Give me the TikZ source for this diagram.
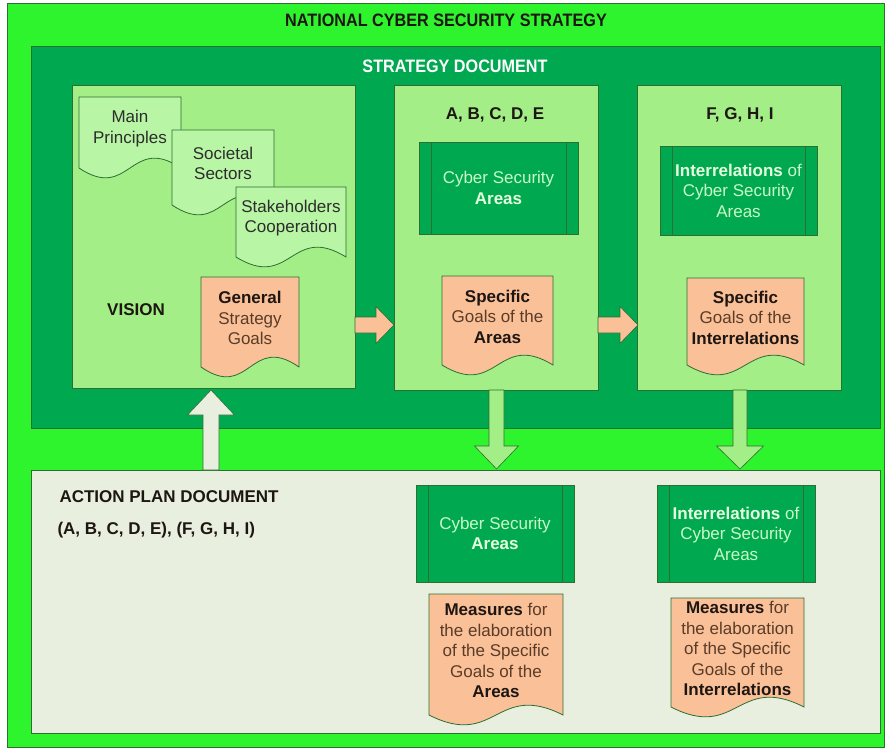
\documentclass[tikz,border=0pt]{standalone}
\usepackage{fontspec}
\setmainfont{Liberation Sans}
\usetikzlibrary{positioning,calc}

\definecolor{outergreen}{RGB}{46,244,46}
\definecolor{darkgreen}{RGB}{0,168,80}
\definecolor{boxgreen}{RGB}{163,238,135}
\definecolor{docgreen}{RGB}{184,245,165}
\definecolor{peach}{RGB}{250,192,152}
\definecolor{planbg}{RGB}{232,239,223}
\definecolor{edgegreen}{RGB}{45,110,50}
\definecolor{palegreen}{RGB}{200,250,195}
\definecolor{whitegreen}{RGB}{228,255,222}
\definecolor{brownish}{RGB}{90,60,40}
\definecolor{darktext}{RGB}{30,22,18}
\definecolor{graytext}{RGB}{45,45,45}

\newcommand\keyword[1]{{\bfseries\color{darktext}#1}}
\newcommand\palekey[1]{{\bfseries\color{whitegreen}#1}}

% document shape: rectangle with a wavy bottom edge (drawn a little below the text box)
\makeatletter
\pgfdeclareshape{wavedoc}{
  \inheritsavedanchors[from=rectangle]
  \inheritanchorborder[from=rectangle]
  \inheritanchor[from=rectangle]{center}
  \inheritanchor[from=rectangle]{north}
  \inheritanchor[from=rectangle]{south}
  \inheritanchor[from=rectangle]{east}
  \inheritanchor[from=rectangle]{west}
  \inheritanchor[from=rectangle]{north east}
  \inheritanchor[from=rectangle]{north west}
  \inheritanchor[from=rectangle]{south east}
  \inheritanchor[from=rectangle]{south west}
  \backgroundpath{
    \southwest \pgf@xa=\pgf@x \pgf@ya=\pgf@y
    \northeast \pgf@xb=\pgf@x \pgf@yb=\pgf@y
    \advance\pgf@ya by -8pt
    \edef\wdl{\the\pgf@xa}\edef\wdb{\the\pgf@ya}%
    \edef\wdr{\the\pgf@xb}\edef\wdt{\the\pgf@yb}%
    \pgfmathsetmacro\wdm{(\wdl+\wdr)/2}%
    \pgfpathmoveto{\pgfpoint{\wdl}{\wdt}}
    \pgfpathlineto{\pgfpoint{\wdr}{\wdt}}
    \pgfpathlineto{\pgfpoint{\wdr}{\wdb}}
    \pgfpathcurveto{\pgfpoint{\wdm pt}{\wdb+34pt}}{\pgfpoint{\wdm pt}{\wdb-34pt}}{\pgfpoint{\wdl}{\wdb}}
    \pgfpathclose
  }
}
\makeatother

\begin{document}
\begin{tikzpicture}[x=1pt,y=-1pt]

\tikzstyle{container}=[draw=edgegreen,line width=0.8pt,inner sep=0pt,outer sep=0pt,anchor=north west]
\tikzstyle{heading}=[font=\fontsize{18}{22}\selectfont\bfseries,text=darktext]
\tikzstyle{body}=[font=\fontsize{17}{20.5}\selectfont,align=center]
\tikzstyle{doc}=[body,wavedoc,draw=edgegreen,line width=0.8pt,inner sep=0pt,outer sep=0pt,anchor=north west]
\tikzstyle{areabox}=[body,draw=edgegreen,fill=darkgreen,line width=0.8pt,inner sep=0pt,outer sep=0pt,
  anchor=north west,text=palegreen,
  path picture={\draw[edgegreen,line width=0.8pt]
    ([xshift=12pt]path picture bounding box.north west) -- ([xshift=12pt]path picture bounding box.south west)
    ([xshift=-12pt]path picture bounding box.north east) -- ([xshift=-12pt]path picture bounding box.south east);}]
\tikzstyle{peacharrow}=[fill=peach,draw=edgegreen,line width=0.6pt]
\tikzstyle{greenarrow}=[fill=boxgreen,draw=edgegreen,line width=0.6pt]
\tikzstyle{planarrow}=[fill=planbg,draw=edgegreen,line width=0.6pt]

\tikzset{pics/blockarrow/.style n args={4}{code={
  \path[pic actions] (0,-#2) -- ({#1-#4},-#2) -- ({#1-#4},-#3) -- (#1,0)
    -- ({#1-#4},#3) -- ({#1-#4},#2) -- (0,#2) -- cycle;}}}

\fill[white] (0,0) rectangle (890,751);
\useasboundingbox (0,0) rectangle (890,751);

% national strategy frame
\node[container,fill=outergreen,minimum width=877,minimum height=744] (nation) at (7,3) {};
\node[heading] (ntitle) at (446,20) {\scalebox{0.9}[1]{NATIONAL CYBER SECURITY STRATEGY}};

% strategy document
\node[container,fill=darkgreen,minimum width=849,minimum height=382] (strategy) at (31,46) {};
\node[heading,text=white] (stitle) at (455,66) {\scalebox{0.9}[1]{STRATEGY DOCUMENT}};

\node[container,fill=boxgreen,minimum width=283,minimum height=303] (vision) at (72,85) {};
\node[container,fill=boxgreen,minimum width=204,minimum height=305] (areas) at (394,85) {};
\node[container,fill=boxgreen,minimum width=204,minimum height=305] (inter) at (637,85) {};

%vision
\node[doc,fill=docgreen,text=graytext,minimum width=102,minimum height=63] (mp) at (79,97) {Main\\Principles};
\node[doc,fill=docgreen,text=graytext,minimum width=102,minimum height=67] (ss) at (172,130) {Societal\\Sectors};
\node[doc,fill=docgreen,text=graytext,minimum width=110,minimum height=62] (sc) at (236,187) {Stakeholders\\Cooperation};
\node[body,font=\fontsize{17}{20.5}\selectfont\bfseries,text=darktext] (vis) at (136,310) {VISION};
\node[doc,fill=peach,text=brownish,minimum width=98,minimum height=82] (gsg) at (201,277) {\keyword{General}\\Strategy\\Goals};

%areas
\node[heading,font=\fontsize{17}{20.5}\selectfont\bfseries] (abcde) at (495,115) {A, B, C, D, E};
\node[areabox,minimum width=159,minimum height=92] (csa1) at (419,142) {Cyber Security\\\palekey{Areas}};
\node[doc,fill=peach,text=brownish,minimum width=111,minimum height=81] (sga) at (442,276) {\keyword{Specific}\\Goals of the\\\keyword{Areas}};

%interrelations
\node[heading,font=\fontsize{17}{20.5}\selectfont\bfseries] (fghi) at (740,115) {F, G, H, I};
\node[areabox,minimum width=157,minimum height=89] (ir1) at (660,146) {\palekey{Interrelations} of\\Cyber Security\\Areas};
\node[doc,fill=peach,text=brownish,minimum width=117,minimum height=79] (sgi) at (687,278) {\keyword{Specific}\\Goals of the\\\keyword{Interrelations}};

% action plan document
\node[container,fill=planbg,minimum width=849,minimum height=263] (plan) at (31,470) {};
\node[body,font=\fontsize{17}{20.5}\selectfont\bfseries,text=darktext,anchor=west] (aptitle) at (56,497) {ACTION PLAN DOCUMENT};
\node[body,font=\fontsize{17}{20.5}\selectfont\bfseries,text=darktext,anchor=west] (aplist) at (54,530) {(A, B, C, D, E), (F, G, H, I)};

\node[areabox,minimum width=158,minimum height=97] (csa2) at (416,485) {Cyber Security\\\palekey{Areas}};
\node[doc,fill=peach,text=brownish,minimum width=134,minimum height=113] (ma) at (429,594)
  {\keyword{Measures} for\\the elaboration\\of the Specific\\Goals of the\\\keyword{Areas}};
\node[areabox,minimum width=158,minimum height=97] (ir2) at (657,485) {\palekey{Interrelations} of\\Cyber Security\\Areas};
\node[doc,fill=peach,text=brownish,minimum width=133,minimum height=101] (mi) at (671,598)
  {\keyword{Measures} for\\the elaboration\\of the Specific\\Goals of the\\\keyword{Interrelations}};

% block arrows
\pic[peacharrow] at (355,325) {blockarrow={39}{8}{18.5}{18}};
\pic[peacharrow] at (598,325) {blockarrow={40}{8}{18.5}{18}};
\pic[greenarrow,rotate=-90] at (496.5,390) {blockarrow={79}{7.5}{22}{23}};
\pic[greenarrow,rotate=-90] at (740,390) {blockarrow={79}{7}{23.5}{23}};
\pic[planarrow,rotate=90] at (211,470) {blockarrow={80}{8}{23.5}{25}};

\end{tikzpicture}
\end{document}
